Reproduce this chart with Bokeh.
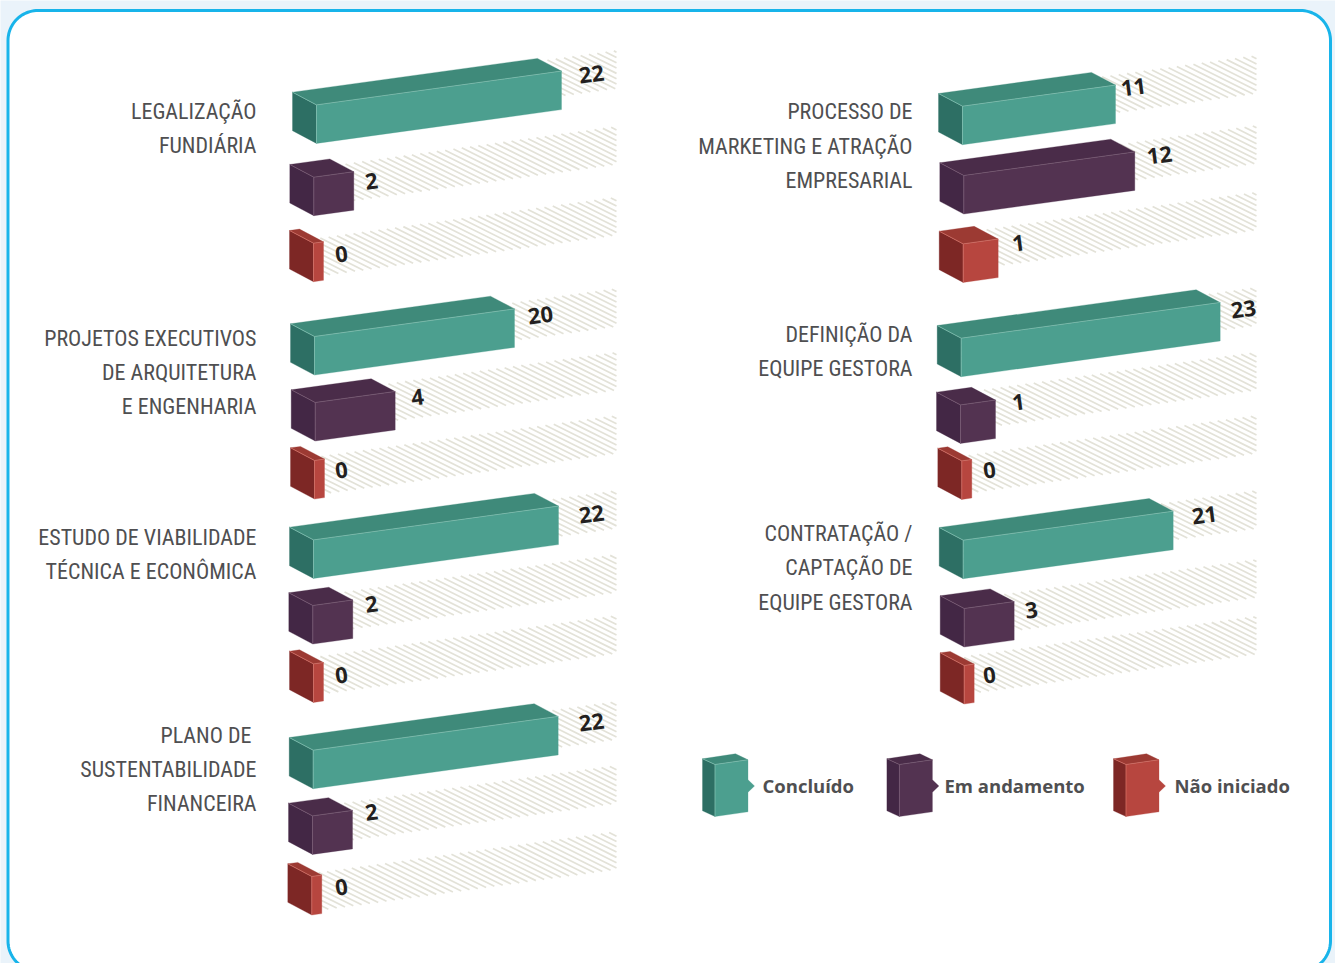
import numpy as np
from bokeh.core.properties import value
from bokeh.embed import file_html
from bokeh.models import ColumnDataSource, Range1d
from bokeh.plotting import figure
from bokeh.resources import INLINE

# Indicators, left column first, then right column
CATEGORIES = [
    ["LEGALIZAÇÃO", "FUNDIÁRIA"],
    ["PROJETOS EXECUTIVOS", "DE ARQUITETURA", "E ENGENHARIA"],
    ["ESTUDO DE VIABILIDADE", "TÉCNICA E ECONÔMICA"],
    ["PLANO DE ", "SUSTENTABILIDADE", "FINANCEIRA"],
    ["PROCESSO DE", "MARKETING E ATRAÇÃO", "EMPRESARIAL"],
    ["DEFINIÇÃO DA", "EQUIPE GESTORA"],
    ["CONTRATAÇÃO /", "CAPTAÇÃO DE", "EQUIPE GESTORA"],
]
CONCLUIDO = [22, 20, 22, 22, 11, 23, 21]
EM_ANDAMENTO = [2, 4, 2, 2, 12, 1, 3]
NAO_INICIADO = [0, 0, 0, 0, 1, 0, 0]
STATUS_NAMES = ["Concluído", "Em andamento", "Não iniciado"]

# Drawn front-face length for each value on the isometric bar scale
SCALE_VALUES = [0, 1, 2, 3, 4, 11, 12, 20, 21, 22, 23]
SCALE_LENGTHS = [10, 35, 40, 50, 80, 153, 171, 200, 210, 245, 259]

# Page layout: upper-left corner of each bar's side face, per group and status
BAR_ANCHORS = [
    [(292.0, 91.7), (289.3, 164.0), (289.0, 230.0)],
    [(290.0, 323.3), (290.7, 389.3), (290.0, 447.3)],
    [(289.0, 526.7), (288.3, 592.3), (289.0, 650.7)],
    [(288.7, 737.0), (288.0, 802.7), (287.3, 863.3)],
    [(938.0, 93.0), (939.3, 162.3), (938.7, 230.7)],
    [(936.7, 325.0), (936.0, 391.7), (937.3, 447.7)],
    [(938.7, 527.0), (939.7, 595.3), (939.7, 652.3)],
]
# Upper edge of each hatched track where it meets the right border
TRACK_TOPS = [
    [50, 126, 196.7], [288, 351.7, 415], [490, 554, 615], [701, 765, 831],
    [55, 125, 191.7], [287, 351.7, 415], [490, 559, 615.7],
]
VALUE_LABEL_POS = [
    [(591, 74), (371, 181), (341, 254)],
    [(540, 315), (417, 397), (341, 470)],
    [(591, 514), (371, 604), (341, 675)],
    [(591, 722), (371, 812), (341, 887)],
    [(1133, 87), (1159, 155), (1018, 243)],
    [(1243, 309), (1018, 402), (989, 470)],
    [(1204, 515), (1031, 610), (989, 675)],
]
CATEGORY_LINE_Y = [
    [111, 145], [338, 372, 406], [537, 571], [735, 769, 803],
    [111, 146, 180], [334, 368], [533, 567, 602],
]
CATEGORY_RIGHT = [256, 256, 256, 256, 912, 912, 912]
TRACK_END = [616, 616, 616, 616, 1256, 1256, 1256]

FRONT = ["#4c9f8f", "#533351", "#b7463f"]
SIDE = ["#2d6f64", "#432745", "#7d2725"]
TOP = ["#3f8a7a", "#4a2c49", "#9c3a33"]
EDGE = ["#86c4b6", "#7d6079", "#d9756b"]
TEXT_DARK = "#231f20"
TEXT_GREY = "#4f4f51"
HATCH = "#e3e2d8"
PANEL_BORDER = "#18b4ea"
PAGE_BG = "#eaf3fa"

DEPTH_X, DEPTH_Y = 24.0, 12.7
BAR_H = 38.5
RISE = 0.138
TRACK_H = 38.0
STRIPE_STEP = 8.3
STRIPE_SLOPE = 0.5

p = figure(width=1335, height=963, output_backend="svg", toolbar_location=None,
           x_range=Range1d(0, 1335), y_range=Range1d(963, 0), min_border=0)
p.axis.visible = False
p.grid.visible = False
p.outline_line_color = None
p.background_fill_color = PAGE_BG
p.border_fill_color = PAGE_BG

# Rounded white panel; its lower edge runs just past the bottom of the page
def rounded_rect(x0, y0, x1, y1, r):
    t = np.linspace(0, np.pi / 2, 24)
    xs = np.concatenate([x0 + r - r * np.cos(t), x1 - r + r * np.sin(t),
                         x1 - r + r * np.cos(t), x0 + r - r * np.sin(t)])
    ys = np.concatenate([y0 + r - r * np.sin(t), y0 + r - r * np.cos(t),
                         y1 - r + r * np.sin(t), y1 - r + r * np.cos(t)])
    return xs, ys

px, py = rounded_rect(7.5, 10, 1330, 970.5, 30)
p.patch(px, py, fill_color="white", line_color=PANEL_BORDER, line_width=3)


def length_for(v):
    return float(np.interp(v, SCALE_VALUES, SCALE_LENGTHS))


def track_stripes(lx, fx, top_right, x_end):
    """Diagonal hatch lines of a track running from the bar to the right border."""
    run = TRACK_H / (STRIPE_SLOPE + RISE)
    xs, ys = [], []
    for x0 in np.arange(fx - run, x_end, STRIPE_STEP):
        ax = max(x0, fx)
        bx = min(x0 + run, x_end)
        if bx <= ax:
            continue
        y0 = top_right + RISE * (x_end - x0)
        xs.append([ax, bx])
        ys.append([y0 + STRIPE_SLOPE * (ax - x0), y0 + STRIPE_SLOPE * (bx - x0)])
    return xs, ys


def box_faces(lx, ly, w, h=BAR_H):
    fx, fy = lx + DEPTH_X, ly + DEPTH_Y
    rx, ry = fx + w, fy - RISE * w
    side = ([lx, fx, fx, lx], [ly, fy, fy + h, ly + h])
    front = ([fx, rx, rx, fx], [fy, ry, ry + h, fy + h])
    top = ([lx, lx + w, rx, fx], [ly, ly - RISE * w, ry, fy])
    edges = ([[lx, fx, rx], [fx, fx]], [[ly, fy, ry], [fy, fy + h]])
    return side, front, top, edges


series = [CONCLUIDO, EM_ANDAMENTO, NAO_INICIADO]

stripe_xs, stripe_ys = [], []
for g in range(len(CATEGORIES)):
    for s in range(3):
        lx, ly = BAR_ANCHORS[g][s]
        xs, ys = track_stripes(lx, lx + DEPTH_X, TRACK_TOPS[g][s], TRACK_END[g])
        stripe_xs += xs
        stripe_ys += ys
p.multi_line(stripe_xs, stripe_ys, line_color=HATCH, line_width=1.7)

for g in range(len(CATEGORIES)):
    for s in range(3):
        lx, ly = BAR_ANCHORS[g][s]
        side, front, top, edges = box_faces(lx, ly, length_for(series[s][g]))
        p.patch(*side, fill_color=SIDE[s], line_color=SIDE[s], line_width=0.3)
        p.patch(*front, fill_color=FRONT[s], line_color=FRONT[s], line_width=0.3)
        p.patch(*top, fill_color=TOP[s], line_color=TOP[s], line_width=0.3)
        p.multi_line(*edges, line_color=EDGE[s], line_width=0.7)

# Bar values, tilted along the bars
val_src = ColumnDataSource(dict(
    x=[VALUE_LABEL_POS[g][s][0] for g in range(7) for s in range(3)],
    y=[VALUE_LABEL_POS[g][s][1] for g in range(7) for s in range(3)],
    t=[str(series[s][g]) for g in range(7) for s in range(3)],
))
p.text("x", "y", text="t", source=val_src, text_font=value("Open Sans"),
       text_font_style="bold", text_font_size="22px", text_color=TEXT_DARK,
       text_align="center", text_baseline="middle", angle=0.13)

# Category names, right aligned beside each group
cat_x, cat_y, cat_t = [], [], []
for g, lines in enumerate(CATEGORIES):
    for line, y in zip(lines, CATEGORY_LINE_Y[g]):
        cat_x.append(CATEGORY_RIGHT[g])
        cat_y.append(y)
        cat_t.append(line)
p.text(cat_x, cat_y, text=cat_t, text_font=value("Roboto Condensed"),
       text_font_size="22px", text_color=TEXT_GREY, text_align="right",
       text_baseline="middle")

# Legend: tall boxes with a small pointer towards the status name
LEGEND_LEFT = [702, 886.4, 1113]
LEGEND_TEXT_X = [762, 944, 1174]
LEGEND_TOP, LEGEND_H, LEGEND_W = 758.3, 52.0, 33.0
for s in range(3):
    lx = LEGEND_LEFT[s]
    fx = lx + 12.5
    rx = fx + LEGEND_W
    ft, rt = LEGEND_TOP + 5.7, LEGEND_TOP + 1.0
    bx = lx + LEGEND_W
    p.patch([lx, fx, fx, lx], [LEGEND_TOP, ft, ft + LEGEND_H, LEGEND_TOP + LEGEND_H],
            fill_color=SIDE[s], line_color=SIDE[s], line_width=0.3)
    p.patch([fx, rx, rx, rx + 6.5, rx, rx, fx],
            [ft, rt, 779.3, 785.5, 791.7, rt + LEGEND_H, ft + LEGEND_H],
            fill_color=FRONT[s], line_color=FRONT[s], line_width=0.3)
    p.patch([lx, bx, rx, fx], [LEGEND_TOP, LEGEND_TOP - 5.0, rt, ft],
            fill_color=TOP[s], line_color=TOP[s], line_width=0.3)
    p.multi_line([[lx, fx, rx], [fx, fx]], [[LEGEND_TOP, ft, rt], [ft, ft + LEGEND_H]],
                 line_color=EDGE[s], line_width=0.7)
p.text(LEGEND_TEXT_X, [785, 785, 785], text=STATUS_NAMES, text_font=value("Open Sans"),
       text_font_style="bold", text_font_size="18.5px", text_color=TEXT_GREY,
       text_align="left", text_baseline="middle")

open("out.html", "w").write(file_html(p, INLINE))
